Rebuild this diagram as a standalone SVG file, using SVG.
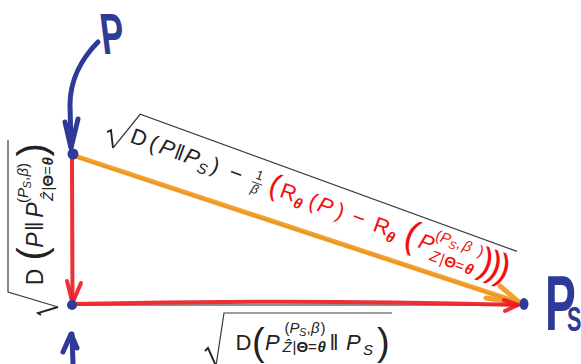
<svg xmlns="http://www.w3.org/2000/svg" width="581" height="364" viewBox="0 0 581 364">
<style>
text { font-family: "Liberation Sans", "DejaVu Sans", sans-serif; font-size: 22px; }
.k { fill: #222; }
.r { fill: #f01010; }
.i { font-style: italic; }
.b { font-weight: bold; }
.rad { fill: none; stroke: #3a3a3a; stroke-width: 1.2; stroke-linejoin: miter; }
.radt { fill: none; stroke: #222; stroke-width: 1.9; }
.blue { fill: none; stroke: #2e3a98; stroke-width: 5; stroke-linecap: round; stroke-linejoin: round; }
.bluef { fill: #2e3a98; }
.hand { fill: #2e3a98; font-weight: bold; }
.red { fill: none; stroke: #ee1c24; stroke-width: 4; stroke-linecap: round; stroke-linejoin: round; opacity: 0.92; }
.org { fill: none; stroke: #f29a20; stroke-width: 5; stroke-linecap: round; stroke-linejoin: round; opacity: 0.92; }
.thin { fill: none; stroke: #222; stroke-width: 1.1; }
</style>

<g id="connectors">
  <path class="thin" d="M72,156 L519,303"/>
  <path class="org" d="M72,155 L520,303"/>
  <path class="org" d="M500,286 L520,303 L486,298"/>
  <path class="red" d="M72,158 L72.5,302"/>
  <path class="red" d="M67,281 L72.5,303 L81,283"/>
  <path class="thin" d="M72,305 L515,305"/>
  <path class="red" d="M72,304 Q300,299 518,305"/>
  <path class="red" d="M504,300 L518,305 L505,311"/>
</g>

<g id="label-hypotenuse" transform="translate(113,148) rotate(20)">
  <path class="radt" d="M-11,-13 L-8,-16 L0,0"/>
  <path class="rad" d="M0,0 L14,-41 L415,-41"/>
  <text class="k" x="13" y="-11">D</text>
  <text class="k" x="33" y="-11">(</text>
  <text class="k i" x="43.5" y="-11">P</text>
  <text class="k" x="59.5" y="-11">‖</text>
  <text class="k i" x="70" y="-11">P</text>
  <text class="k i" x="86" y="-6" style="font-size:15px">S</text>
  <text class="k" x="98.7" y="-11">)</text>
  <text class="k" x="117.8" y="-11">−</text>
  <text class="k" x="143.7" y="-20" style="font-size:13px">1</text>
  <line x1="142" y1="-16" x2="153" y2="-16" stroke="#222" stroke-width="0.8"/>
  <text class="k i" x="143.5" y="-5.5" style="font-size:13px">β</text>
  <text class="r" x="160" y="-11" style="font-size:30px">(</text>
  <text class="r" x="172" y="-11">R</text>
  <text class="r i b" x="188.5" y="-6" style="font-size:15px">θ</text>
  <text class="r" x="202.8" y="-11">(</text>
  <text class="r i" x="212" y="-11">P</text>
  <text class="r" x="231.8" y="-11">)</text>
  <text class="r" x="248.4" y="-11">−</text>
  <text class="r" x="271.4" y="-11">R</text>
  <text class="r i b" x="287" y="-6" style="font-size:15px">θ</text>
  <text class="r" x="304.3" y="-8" style="font-size:38px">(</text>
  <text class="r i" x="319.5" y="-11">P</text>
  <text class="r" x="333.5" y="-24" style="font-size:15px">(</text>
  <text class="r i" x="338.5" y="-24" style="font-size:15px">P</text>
  <text class="r i" x="348.5" y="-21" style="font-size:11px">S</text>
  <text class="r" x="356" y="-24" style="font-size:15px">,</text>
  <text class="r i" x="362.5" y="-24" style="font-size:15px">β</text>
  <text class="r" x="378.5" y="-24" style="font-size:15px">)</text>
  <text class="r i" x="335" y="-3" style="font-size:15px">Z</text>
  <text class="r" x="345.5" y="-3" style="font-size:15px">|</text>
  <text class="r b" x="350" y="-3" style="font-size:15px">Θ</text>
  <text class="r" x="361.5" y="-3" style="font-size:15px">=</text>
  <text class="r i b" x="372" y="-3" style="font-size:15px">θ</text>
  <text class="r" x="384" y="-8" style="font-size:38px">)</text>
  <text class="r" x="393" y="-8" style="font-size:38px">)</text>
  <text class="r" x="402" y="-8" style="font-size:38px">)</text>
</g>

<g id="label-left" transform="translate(43,300) rotate(-90)">
  <path class="radt" d="M-15,-2 L-13,-5 L-7,15"/>
  <path class="rad" d="M-7,15 L8,-35 L160,-35"/>
  <text class="k" x="14.7" y="0" style="font-size:23px">D</text>
  <text class="k" x="39.4" y="3" style="font-size:40px">(</text>
  <text class="k i" x="52.3" y="0" style="font-size:23px">P</text>
  <text class="k" x="69" y="0" style="font-size:23px">‖</text>
  <text class="k i" x="82.3" y="0" style="font-size:23px">P</text>
  <text class="k" x="97" y="-15" style="font-size:15px">(</text>
  <text class="k i" x="102" y="-15" style="font-size:15px">P</text>
  <text class="k i" x="111.5" y="-12" style="font-size:11px">S</text>
  <text class="k" x="119" y="-15" style="font-size:15px">,</text>
  <text class="k i" x="123.5" y="-15" style="font-size:15px">β</text>
  <text class="k" x="132" y="-15" style="font-size:15px">)</text>
  <text class="k i" x="99" y="10" style="font-size:15px">Ẑ</text>
  <text class="k" x="109.5" y="10" style="font-size:15px">|</text>
  <text class="k b" x="113.5" y="10" style="font-size:15px">Θ</text>
  <text class="k" x="125" y="10" style="font-size:15px">=</text>
  <text class="k i b" x="134.5" y="10" style="font-size:15px">θ</text>
  <text class="k" x="143.4" y="3" style="font-size:40px">)</text>
</g>

<g id="label-bottom">
  <path class="radt" d="M205,351 L208,348 L216,366"/>
  <path class="rad" d="M216,366 L224,313 L392,313"/>
  <text class="k" x="235.5" y="350">D</text>
  <text class="k" x="252" y="355" style="font-size:38px">(</text>
  <text class="k i" x="265" y="350">P</text>
  <text class="k" x="284.5" y="333" style="font-size:15px">(</text>
  <text class="k i" x="289.5" y="333" style="font-size:15px">P</text>
  <text class="k i" x="299" y="336" style="font-size:11px">S</text>
  <text class="k" x="306.5" y="333" style="font-size:15px">,</text>
  <text class="k i" x="311" y="333" style="font-size:15px">β</text>
  <text class="k" x="320.5" y="333" style="font-size:15px">)</text>
  <text class="k i" x="282.5" y="352" style="font-size:15px">Ẑ</text>
  <text class="k" x="292.5" y="352" style="font-size:15px">|</text>
  <text class="k b" x="296.5" y="352" style="font-size:15px">Θ</text>
  <text class="k" x="308" y="352" style="font-size:15px">=</text>
  <text class="k i b" x="317.5" y="352" style="font-size:15px">θ</text>
  <text class="k" x="329.5" y="350">‖</text>
  <text class="k i" x="346" y="350">P</text>
  <text class="k i" x="363" y="355" style="font-size:15px">S</text>
  <text class="k" x="377" y="355" style="font-size:38px">)</text>
</g>

<g id="node-P">
  <path class="blue" d="M98,42 C82,58 70,80 70,105 L71,146"/>
  <path class="blue" d="M65,122 L71,148 L78,119"/>
  <circle class="bluef" cx="73" cy="154" r="5.5"/>
  <text class="hand" transform="translate(103,54) skewX(7) scale(0.6,1)" style="font-size:58px">P</text>
</g>

<g id="node-bottom">
  <circle class="bluef" cx="72" cy="305" r="5"/>
  <path class="blue" d="M73,364 L72,334"/>
  <path class="blue" d="M63,352 L71,334 L77,348"/>
</g>

<g id="node-Ps">
  <ellipse class="bluef" cx="524" cy="304" rx="4.5" ry="6"/>
  <text class="hand" transform="translate(545,330) scale(0.6,1)" style="font-size:77px">P<tspan dx="-14.7" dy="1" style="font-size:36px">S</tspan></text>
</g>
</svg>
